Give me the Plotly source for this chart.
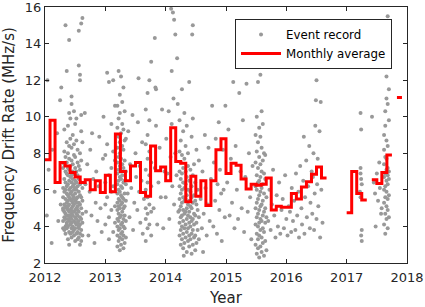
import plotly.graph_objects as go

# Monthly averages (Jan..Dec), None = no data
monthly_2012 = [7.65, 9.8, 6.4, 7.5, 7.3, 6.95, 6.7, 6.4, 6.55, 6.0, 6.5, 5.85]
monthly_2013 = [6.8, 5.9, 9.05, 7.0, 6.5, 7.3, 7.5, 5.85, 5.65, 8.4, 7.05, 7.25]
monthly_2014 = [6.5, 9.4, 7.55, 7.45, 5.35, 6.75, 5.65, 6.5, 5.15, 6.5, 8.2, 8.8]
monthly_2015 = [6.9, 7.45, 7.35, 6.6, 6.05, 6.3, 6.25, 6.3, 6.65, 4.9, 5.1, 5.05]
monthly_2016 = [5.05, 5.8, 5.5, 6.15, 6.45, 6.85, 7.25, 6.65, None, None, None, None]
monthly_2017 = [4.75, 7.0, 5.8, 5.45, None, 6.55, 6.35, 6.95, 7.9, None, 11.05, None]
monthly_years = [2012, 2013, 2014, 2015, 2016, 2017]

# Event records: (time, [rates]) columns and single (time, rate) points
ev2012 = [
    (2012.04, [12.0]), (2012.03, [4.6]), (2012.06, [7.1]), (2012.11, [3.1]), (2012.12, [8.2]),
    (2012.16, [5.9]), (2012.20, [9.1]), (2012.22, [4.3]), (2012.25, [10.9]), (2012.27, [11.6]),
    (2012.26, [5.2]),
    (2012.30, [4.3, 4.9, 5.6, 6.1, 7.2, 3.9, 5.0]),
    (2012.32, [3.8, 4.5, 5.2, 5.9, 6.6, 7.4, 8.1, 4.8, 9.3]),
    (2012.34, [4.0, 4.4, 4.7, 5.1, 5.5, 6.0, 6.4, 7.0, 7.8, 3.6, 15.0]),
    (2012.36, [3.9, 4.2, 4.6, 5.0, 5.3, 5.8, 6.2, 6.9, 7.5, 8.6, 12.5, 4.1]),
    (2012.38, [3.3, 4.0, 4.4, 4.9, 5.4, 5.7, 6.3, 6.8, 7.2, 8.0, 9.5, 5.1]),
    (2012.40, [3.0, 3.7, 4.3, 4.8, 5.2, 5.6, 6.0, 6.5, 7.1, 7.7, 8.4, 10.2, 14.2, 4.6]),
    (2012.42, [3.6, 4.1, 4.5, 4.9, 5.5, 6.1, 6.7, 7.3, 8.8, 9.9, 5.8]),
    (2012.44, [3.4, 3.9, 4.2, 4.7, 5.0, 5.4, 5.9, 6.4, 6.8, 7.6, 8.3, 10.7, 11.1, 4.4]),
    (2012.46, [3.7, 4.0, 4.6, 5.1, 5.3, 5.7, 6.2, 6.6, 7.0, 7.4, 9.0, 4.8, 5.5]),
    (2012.48, [3.5, 3.8, 4.3, 4.8, 5.2, 5.6, 6.0, 6.3, 6.9, 7.9, 8.5, 10.3]),
    (2012.50, [3.2, 3.9, 4.5, 4.9, 5.4, 5.8, 6.1, 6.5, 7.2, 7.8, 9.6, 4.2]),
    (2012.52, [3.6, 4.1, 4.4, 4.7, 5.0, 5.5, 6.0, 6.4, 7.0, 8.7, 9.9, 5.3]),
    (2012.54, [3.3, 3.7, 4.2, 4.6, 5.1, 5.6, 6.2, 6.8, 7.5, 8.2, 4.9]),
    (2012.56, [3.4, 3.9, 4.3, 4.8, 5.3, 5.9, 6.6, 7.3, 12.8, 14.7, 4.0]),
    (2012.58, [3.0, 3.6, 4.1, 4.5, 5.2, 5.7, 6.3, 7.1, 8.0, 12.3, 12.0]),
    (2012.60, [3.2, 3.8, 4.4, 5.0, 5.6, 6.4, 7.6, 9.2, 15.1, 10.1]),
    (2012.62, [3.5, 4.2, 4.7, 5.4, 6.1, 15.4, 8.6]),
    (2012.66, [10.2]), (2012.67, [6.3]), (2012.68, [4.8]), (2012.70, [7.4]), (2012.72, [3.5]),
    (2012.74, [5.9]), (2012.75, [8.2]), (2012.77, [4.6]), (2012.78, [9.1]), (2012.80, [6.6]),
    (2012.82, [3.1]), (2012.84, [5.3]), (2012.85, [7.0]), (2012.87, [4.3]), (2012.89, [6.2]),
    (2012.90, [8.9]), (2012.92, [5.0]), (2012.94, [3.7]), (2012.96, [7.7]), (2012.97, [10.0]),
]
ev2013 = [
    (2013.00, [7.9, 5.2, 4.1, 6.4]), (2013.03, [12.4, 8.5, 5.6]), (2013.06, [11.9, 6.8, 4.5, 3.3]),
    (2013.10, [9.6, 5.9, 4.9, 7.2]), (2013.13, [12.0, 8.1, 6.2, 3.7]), (2013.16, [10.6, 7.6, 5.1, 4.2]),
    (2013.20, [2.9, 3.5, 4.0, 4.4, 4.9, 5.3, 5.8, 6.3, 6.9, 7.5, 8.3, 9.4, 10.6]),
    (2013.22, [3.2, 3.8, 4.3, 4.7, 5.1, 5.5, 6.0, 6.5, 7.1, 7.8, 8.9, 9.9, 12.5]),
    (2013.24, [2.7, 3.4, 3.9, 4.5, 5.0, 5.4, 5.9, 6.7, 7.3, 8.0, 8.6, 10.2, 11.2]),
    (2013.26, [3.0, 3.6, 4.1, 4.6, 5.2, 5.7, 6.2, 6.6, 7.0, 7.7, 9.1, 12.2]),
    (2013.28, [3.3, 3.7, 4.2, 4.8, 5.3, 5.6, 6.1, 6.8, 7.4, 8.4, 9.6, 10.8]),
    (2013.30, [2.8, 3.5, 4.0, 4.4, 5.0, 5.5, 6.4, 7.2, 8.2, 9.3, 11.6]),
    (2013.32, [3.1, 3.9, 4.6, 5.1, 5.8, 6.5, 7.6, 8.7, 10.3]),
    (2013.34, [3.4, 4.3, 5.4, 6.3, 7.0, 8.8]),
    (2013.37, [5.8]), (2013.38, [9.2]), (2013.40, [4.5]), (2013.41, [7.4]), (2013.43, [6.1]),
    (2013.45, [10.1]), (2013.46, [3.8]), (2013.48, [5.3]), (2013.50, [8.0]), (2013.51, [6.7]),
    (2013.53, [4.9]), (2013.54, [9.7]), (2013.55, [12.1]), (2013.56, [5.9]), (2013.57, [7.3]),
    (2013.58, [4.2]), (2013.60, [6.5]), (2013.61, [8.6]), (2013.62, [3.6]), (2013.64, [5.5]),
    (2013.67, [3.2, 4.4, 5.0, 6.0, 7.1, 8.5, 10.4]),
    (2013.70, [3.9, 4.7, 5.6, 6.4, 7.7, 9.0, 11.3]),
    (2013.73, [4.1, 5.2, 6.8, 8.1, 9.8, 12.0]),
    (2013.76, [3.5, 4.8, 6.2, 7.5, 13.0]),
    (2013.80, [5.0]), (2013.82, [7.2, 14.3]), (2013.83, [11.6]), (2013.84, [9.5, 11.5]),
    (2013.86, [4.1]), (2013.88, [6.4]), (2013.90, [8.3]), (2013.92, [5.6]), (2013.94, [10.4]),
    (2013.96, [3.9]), (2013.98, [7.0]),
]
ev2014 = [
    (2014.09, [15.9]), (2014.12, [15.7]), (2014.14, [15.3]), (2014.16, [14.5]), (2014.19, [13.2]),
    (2014.10, [12.5]), (2014.45, [15.0]), (2014.44, [14.5]),
    (2014.00, [5.6]), (2014.01, [8.8]), (2014.03, [6.9]), (2014.05, [10.3]), (2014.06, [4.4]),
    (2014.08, [7.8]), (2014.10, [9.6]), (2014.11, [6.2]), (2014.13, [11.0]), (2014.14, [5.2]),
    (2014.16, [8.0]), (2014.18, [6.8]), (2014.20, [10.7]), (2014.21, [4.8]),
    (2014.23, [3.5, 4.2, 4.9, 5.5, 6.2, 7.0, 8.1, 9.8]),
    (2014.25, [3.0, 3.8, 4.5, 5.1, 5.8, 6.6, 7.5, 8.7]),
    (2014.27, [3.3, 4.0, 4.6, 5.3, 6.0, 6.9, 7.9, 11.5]),
    (2014.29, [2.8, 3.6, 4.3, 4.9, 5.6, 6.4, 7.2, 9.2]),
    (2014.30, [2.4]),
    (2014.31, [3.1, 3.9, 4.7, 5.4, 6.1, 7.7, 10.2]),
    (2014.33, [3.4, 4.1, 4.8, 5.5, 6.3, 7.0, 8.4]),
    (2014.35, [2.6, 3.7, 4.4, 5.0, 5.7, 6.7, 9.5]),
    (2014.37, [3.2, 3.9, 4.6, 5.2, 6.0, 7.3, 8.0]),
    (2014.39, [2.9, 3.5, 4.2, 4.8, 5.4, 6.5, 11.9]),
    (2014.41, [3.3, 4.0, 4.5, 5.1, 5.9, 7.1]),
    (2014.43, [2.5, 3.6, 4.3, 5.0, 5.6, 6.2, 8.9]),
    (2014.45, [3.0, 3.8, 4.4, 5.3, 6.8, 9.9]),
    (2014.47, [3.4, 4.1, 4.7, 5.7, 7.4]),
    (2014.49, [2.7, 3.5, 4.6, 5.4, 6.4]),
    (2014.51, [3.1, 4.2, 5.2, 8.2]),
    (2014.53, [3.8, 4.9, 6.0]),
    (2014.55, [3.3, 4.5, 7.6]),
    (2014.58, [5.5]), (2014.60, [3.9]), (2014.61, [7.0]), (2014.62, [2.6]), (2014.63, [4.7]),
    (2014.65, [9.0]), (2014.66, [6.1]), (2014.68, [3.5]), (2014.70, [5.2]), (2014.71, [8.3]),
    (2014.73, [4.3]), (2014.75, [6.6]), (2014.77, [10.6]),
    (2014.79, [4.0]), (2014.80, [7.5]), (2014.82, [5.4]), (2014.83, [8.8]), (2014.85, [3.6]),
    (2014.86, [6.3]), (2014.88, [9.7]), (2014.89, [4.9]), (2014.90, [7.1]), (2014.92, [5.8]),
    (2014.93, [3.2]), (2014.95, [8.2]), (2014.96, [6.0]), (2014.98, [4.5]), (2014.99, [10.6]),
]
ev2015 = [
    (2015.02, [6.4]), (2015.04, [9.3]), (2015.06, [4.6]), (2015.08, [7.7]), (2015.10, [5.3]),
    (2015.12, [11.9]), (2015.14, [3.9]), (2015.16, [8.4]), (2015.18, [6.0]), (2015.20, [4.4]),
    (2015.22, [11.3]), (2015.24, [7.0]), (2015.26, [5.0]), (2015.28, [9.8]), (2015.30, [3.7]),
    (2015.32, [6.7]), (2015.34, [11.8]), (2015.36, [4.8]), (2015.38, [8.0]), (2015.40, [5.6]),
    (2015.42, [3.3]), (2015.44, [7.3]),
    (2015.49, [3.0, 4.1, 5.0, 6.2, 7.5, 9.0]),
    (2015.51, [2.5, 3.6, 4.5, 5.3, 6.0, 6.8, 8.1, 10.0]),
    (2015.53, [2.8, 3.3, 4.0, 4.7, 5.5, 6.4, 7.2, 8.6, 11.9]),
    (2015.55, [2.3, 3.5, 4.2, 4.9, 5.7, 6.5, 7.8, 9.4]),
    (2015.57, [2.9, 3.8, 4.4, 5.1, 5.9, 6.7, 7.4, 8.9, 12.3]),
    (2015.59, [2.6, 3.4, 4.3, 5.2, 6.1, 7.0, 8.3, 10.3]),
    (2015.61, [3.1, 3.9, 4.6, 5.4, 6.3, 7.6, 9.6]),
    (2015.63, [2.4, 3.7, 4.8, 5.8, 6.9, 8.0]),
    (2015.65, [3.2, 4.2, 5.0, 6.6, 7.9]),
    (2015.67, [2.7, 4.5, 5.6]),
    (2015.70, [4.3]), (2015.72, [6.0]), (2015.74, [3.8]), (2015.76, [5.2]), (2015.78, [7.1]),
    (2015.80, [4.6]), (2015.82, [3.4]), (2015.84, [5.7]), (2015.86, [4.0]), (2015.88, [6.4]),
    (2015.90, [3.6]), (2015.92, [4.9]), (2015.94, [5.5]), (2015.96, [3.9]), (2015.98, [6.8]),
]
ev2016 = [
    (2016.00, [4.4]), (2016.02, [3.5]), (2016.04, [5.1]), (2016.06, [4.8]), (2016.08, [3.7]),
    (2016.09, [6.1]), (2016.11, [4.3]), (2016.13, [5.4]), (2016.15, [3.8]), (2016.16, [6.9]),
    (2016.18, [4.6]), (2016.20, [5.9]), (2016.21, [3.4]), (2016.23, [7.3]), (2016.25, [5.0]),
    (2016.26, [4.1]), (2016.28, [6.5]), (2016.29, [8.9]), (2016.30, [3.6]), (2016.31, [5.6]),
    (2016.33, [7.6]), (2016.34, [4.5]), (2016.35, [12.9]), (2016.36, [6.2]), (2016.38, [8.4]),
    (2016.39, [3.9]), (2016.40, [5.3]), (2016.42, [7.0]), (2016.43, [4.7]), (2016.44, [6.7]),
    (2016.45, [8.0]), (2016.46, [3.8]), (2016.47, [5.8]), (2016.48, [9.5]), (2016.49, [10.9]),
    (2016.50, [12.0, 4.4]), (2016.51, [6.3]), (2016.52, [7.7]), (2016.53, [5.1]), (2016.55, [9.2]),
    (2016.56, [3.4]), (2016.57, [10.8]), (2016.58, [6.0]), (2016.60, [4.2]),
]
ev2017 = [
    (2017.23, [10.2, 7.2, 6.9, 5.6]), (2017.24, [9.3, 6.6, 3.5]), (2017.25, [6.3, 3.8, 3.2]),
    (2017.22, [5.9]),
    (2017.42, [10.0]), (2017.45, [6.4]), (2017.47, [5.8]), (2017.48, [4.0]), (2017.50, [6.9]),
    (2017.52, [5.4]), (2017.54, [7.5]), (2017.55, [6.1]), (2017.57, [4.7]), (2017.58, [5.0]),
    (2017.62, [4.1, 5.3, 6.0, 6.7, 7.4, 8.2, 9.0]),
    (2017.64, [3.6, 4.7, 5.6, 6.2, 6.9, 7.8, 9.5, 10.3]),
    (2017.66, [4.4, 5.1, 5.9, 6.5, 7.1, 7.7, 8.7, 11.0, 12.2, 12.9]),
    (2017.68, [3.9, 4.9, 5.5, 6.3, 6.8, 7.2, 8.4, 10.7, 13.1, 15.5]),
    (2017.70, [4.5, 5.7, 6.6, 7.0, 9.8, 11.5]),
]

x_ticks = [2012, 2013, 2014, 2015, 2016, 2017, 2018]
y_ticks = [2, 4, 6, 8, 10, 12, 14, 16]

# Expand event records
ev_t, ev_v = [], []
for group in (ev2012, ev2013, ev2014, ev2015, ev2016, ev2017):
    for t, vals in group:
        for v in vals:
            ev_t.append(t)
            ev_v.append(v)

# Build monthly step line
monthly = []
for yr, vals in zip(monthly_years, (monthly_2012, monthly_2013, monthly_2014,
                                    monthly_2015, monthly_2016, monthly_2017)):
    for m, v in enumerate(vals):
        monthly.append((yr + m / 12.0, v))
st_x, st_y = [], []
prev = None
for t, v in monthly:
    if v is None:
        if prev is not None:
            st_x.append(None)
            st_y.append(None)
        prev = None
        continue
    st_x += [t, t + 1 / 12.0]
    st_y += [v, v]
    prev = v

FONT = "DejaVu Sans, Liberation Sans, Arial, sans-serif"
INK = "#262626"

fig = go.Figure()
fig.add_trace(go.Scatter(
    x=ev_t, y=ev_v, mode="markers", name="Event record",
    marker=dict(color="#999999", size=4, line=dict(width=0)),
))
fig.add_trace(go.Scatter(
    x=st_x, y=st_y, mode="lines", name="Monthly average",
    line=dict(color="#ff0000", width=3), connectgaps=False,
))

axis_common = dict(
    showline=True, linecolor=INK, linewidth=1, mirror="ticks",
    ticks="inside", ticklen=4, tickcolor=INK, showgrid=False, zeroline=False,
    automargin=False, ticklabeloverflow="allow",
    tickfont=dict(family=FONT, size=13, color=INK),
)
fig.update_xaxes(range=[2012, 2018], tickvals=x_ticks, ticktext=[str(v) for v in x_ticks],
                 ticklabelstandoff=2,
                 title=dict(text="Year", font=dict(family=FONT, size=15, color=INK), standoff=10),
                 **axis_common)
fig.update_yaxes(range=[1.9999, 16.0001], tickvals=y_ticks, ticktext=[str(v) for v in y_ticks],
                 title=dict(text="Frequency Drift Rate (MHz/s)",
                            font=dict(family=FONT, size=15, color=INK), standoff=8),
                 **axis_common)
fig.update_layout(
    width=425, height=307,
    margin=dict(l=45, r=18, t=7, b=44),
    paper_bgcolor="white", plot_bgcolor="white",
    font=dict(family=FONT, size=12, color=INK),
    legend=dict(x=0.9586, y=0.953, xanchor="right", yanchor="top",
                bgcolor="white", bordercolor=INK, borderwidth=1,
                font=dict(family=FONT, size=11.8, color="#000000"), tracegroupgap=0,
                itemwidth=40),
    showlegend=True,
)
fig.write_html("out.html", config={"displayModeBar": False},
               post_script="document.body.style.margin='0';document.body.style.padding='0';")
